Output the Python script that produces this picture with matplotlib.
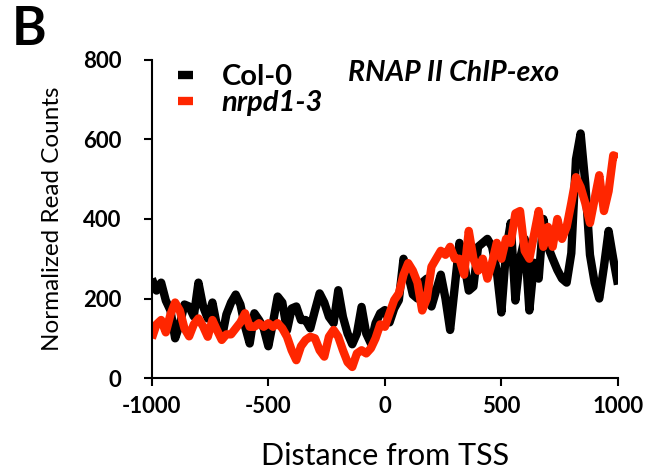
import numpy as np
import matplotlib.pyplot as plt
from matplotlib.lines import Line2D

plt.rcParams['font.family'] = ['Lato', 'DejaVu Sans']
plt.rcParams['axes.unicode_minus'] = False

# distance from TSS (bp), one value every 20 bp
distance = np.arange(-1000, 1001, 20)

col0 = [250, 220, 240, 195, 170, 100, 135, 185, 180, 155,
        240, 180, 150, 190, 130, 100, 160, 190, 210, 185,
        130, 87, 163, 146, 125, 80, 140, 205, 190, 120,
        175, 180, 146, 146, 125, 170, 213, 190, 154, 138,
        221, 154, 112, 85, 112, 179, 112, 87, 138, 163,
        171, 140, 175, 196, 300, 260, 210, 200, 240, 250,
        180, 220, 260, 200, 121, 230, 340, 290, 220, 230,
        330, 340, 350, 330, 270, 165, 320, 390, 195, 300,
        350, 170, 290, 250, 400, 330, 300, 272, 250, 240,
        314, 550, 615, 490, 310, 240, 200, 280, 370, 300,
        235]

nrpd1 = [100, 135, 146, 115, 160, 190, 170, 125, 105, 135,
         150, 130, 104, 146, 120, 96, 110, 110, 125, 140,
         163, 129, 129, 138, 129, 138, 129, 138, 125, 104,
         70, 45, 80, 96, 104, 100, 70, 54, 104, 121,
         104, 70, 40, 28, 62, 70, 62, 75, 100, 135,
         129, 163, 196, 213, 260, 289, 270, 240, 170, 200,
         280, 300, 320, 310, 330, 300, 300, 260, 370, 300,
         270, 300, 250, 290, 340, 300, 350, 340, 414, 420,
         320, 300, 360, 420, 330, 380, 330, 400, 350, 380,
         440, 505, 480, 440, 390, 450, 510, 420, 470, 560,
         555]

black = 'black'
red = '#ff2600'

fig = plt.figure(figsize=(6.63, 4.75), dpi=100)
ax = fig.add_axes([0.229, 0.204, 0.703, 0.670])

ax.plot(distance, col0, color=black, lw=6, solid_joinstyle='round',
        solid_capstyle='butt')
ax.plot(distance, nrpd1, color=red, lw=6, solid_joinstyle='round',
        solid_capstyle='butt')

ax.set_xlim(-1000, 1000)
ax.set_ylim(0, 800)
ax.set_xticks([-1000, -500, 0, 500, 1000])
ax.set_yticks([0, 200, 400, 600, 800])
for s in ['top', 'right']:
    ax.spines[s].set_visible(False)
for s in ['left', 'bottom']:
    ax.spines[s].set_linewidth(1.5)
ax.tick_params(direction='out', length=6, width=1.5, labelsize=16)
ax.tick_params(axis='y', pad=16)
ax.tick_params(axis='x', pad=7)
for lab in ax.get_xticklabels() + ax.get_yticklabels():
    lab.set_fontweight('bold')

ax.set_xlabel('Distance from TSS', fontsize=22, labelpad=18)
ax.set_ylabel('Normalized Read Counts', fontsize=17.5, labelpad=14)

handles = [Line2D([], [], color=black, lw=6, solid_capstyle='butt'),
           Line2D([], [], color=red, lw=6, solid_capstyle='butt')]
leg = ax.legend(handles, ['Col-0', 'nrpd1-3'], loc='upper left',
                bbox_to_anchor=(0.0, 1.07), frameon=False,
                handlelength=0.5, handletextpad=1.0, labelspacing=0.0,
                prop={'size': 21, 'weight': 'bold'})
leg.get_texts()[1].set_style('italic')

ax.text(0.42, 0.96, 'RNAP II ChIP-exo', transform=ax.transAxes, fontsize=20.5,
        fontweight='bold', style='italic', va='center', ha='left')
fig.text(0.018, 0.99, 'B', fontsize=38, fontweight='bold', va='top', ha='left')

fig.savefig('out.png', dpi=100)
